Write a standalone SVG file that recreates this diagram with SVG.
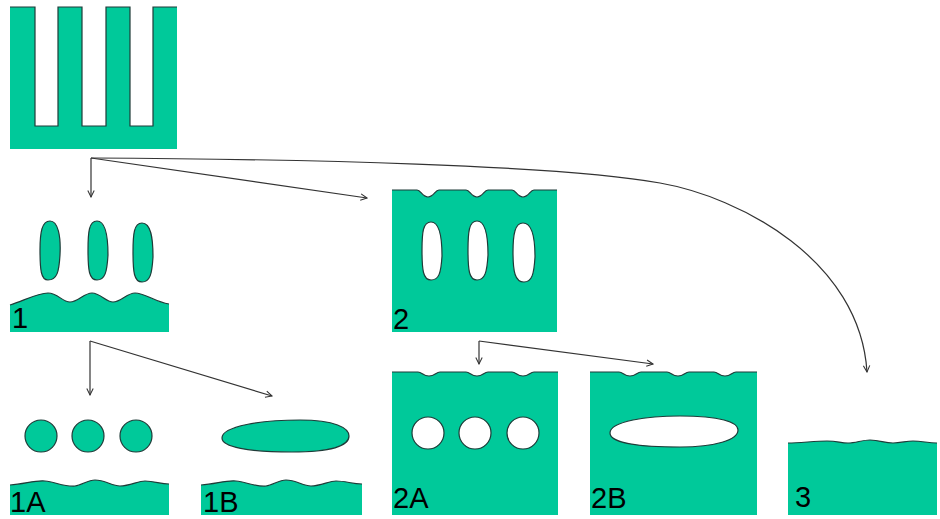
<svg xmlns="http://www.w3.org/2000/svg" width="940" height="519" viewBox="0 0 940 519">
<defs>
<style>
.fill{fill:#00C99A;stroke:none}
.edge{fill:none;stroke:#1f3b38;stroke-width:1.2}
.blob{fill:#00C99A;stroke:#1f3b38;stroke-width:1.2}
.hole{fill:#ffffff;stroke:#1f3b38;stroke-width:1.2}
.lbl{font-family:"Liberation Sans",Arial,sans-serif;font-size:29px;fill:#000}
.con{fill:none;stroke:#333;stroke-width:1.2}
</style>
<marker id="arr" viewBox="0 0 10 10" refX="9" refY="5" markerWidth="8" markerHeight="8" markerUnits="userSpaceOnUse" orient="auto">
<path d="M1,1 L9,5 L1,9" fill="none" stroke="#333" stroke-width="1.3"/>
</marker>
</defs>
<rect width="940" height="519" fill="#fff"/>

<g id="comb">
<path class="fill" d="M10,7 L35,7 L35,126 L58,126 L58,7 L82,7 L82,126 L106,126 L106,7 L130,7 L130,126 L153,126 L153,7 L177,7 L177,149 L10,149 Z"/>
<path class="edge" d="M10,7 L35,7 L35,126 L58,126 L58,7 L82,7 L82,126 L106,126 L106,7 L130,7 L130,126 L153,126 L153,7 L177,7"/>
</g>

<g id="n1">
<path class="fill" d="M10,305 C25,300 38,293 48,293 C58,293 62,302 70,302 C78,302 84,293 92,293 C100,293 106,302 113,302 C121,302 127,293 135,293 C145,293 155,302 169,304 L169,332 L10,332 Z"/>
<path class="edge" d="M10,305 C25,300 38,293 48,293 C58,293 62,302 70,302 C78,302 84,293 92,293 C100,293 106,302 113,302 C121,302 127,293 135,293 C145,293 155,302 169,304"/>
<path class="blob" d="M50,221 C58,221 61,236 60,255 C59,272 57,280 48,280 C41,280 40,270 40,250 C40,232 42,221 50,221 Z"/>
<path class="blob" d="M97,221 C105,221 108,236 108,255 C107,272 105,280 97,280 C89,280 88,270 88,250 C88,232 89,221 97,221 Z"/>
<path class="blob" d="M142,223 C151,223 153,238 153,257 C152,274 150,282 142,282 C134,282 133,272 133,252 C133,234 134,223 142,223 Z"/>
<text class="lbl" x="12" y="328">1</text>
</g>

<g id="n2">
<path class="fill" d="M392,190 L417,190 C421,190 422,197 428,197 C434,197 435,190 439,190 L466,190 C470,190 471,197 477,197 C483,197 484,190 488,190 L512,190 C516,190 517,197 523,197 C529,197 530,190 534,190 L557,190 L557,332 L392,332 Z"/>
<path class="edge" d="M392,190 L417,190 C421,190 422,197 428,197 C434,197 435,190 439,190 L466,190 C470,190 471,197 477,197 C483,197 484,190 488,190 L512,190 C516,190 517,197 523,197 C529,197 530,190 534,190 L557,190"/>
<path class="hole" d="M431,222 C439,222 442,237 442,256 C441,273 439,280 431,280 C423,280 422,270 422,250 C422,232 423,222 431,222 Z"/>
<path class="hole" d="M477,221 C485,221 488,236 488,255 C487,272 485,280 477,280 C469,280 468,270 468,250 C468,232 469,221 477,221 Z"/>
<path class="hole" d="M523,223 C532,223 535,238 535,257 C534,274 532,282 524,282 C515,282 513,272 513,252 C513,234 515,223 523,223 Z"/>
<text class="lbl" x="393" y="329">2</text>
</g>

<g id="n1A">
<circle class="blob" cx="41" cy="436" r="16"/>
<circle class="blob" cx="88" cy="436" r="16"/>
<circle class="blob" cx="136" cy="436" r="16"/>
<path class="fill" d="M10,485 C25,484 35,480 45,481 C55,482 65,487 75,486 C82,485 88,480 95,480 C105,480 112,486 120,486 C130,486 138,481 145,481 C155,481 160,484 169,484 L169,515 L10,515 Z"/>
<path class="edge" d="M10,485 C25,484 35,480 45,481 C55,482 65,487 75,486 C82,485 88,480 95,480 C105,480 112,486 120,486 C130,486 138,481 145,481 C155,481 160,484 169,484"/>
<text class="lbl" x="10" y="512">1A</text>
</g>

<g id="n1B">
<path class="blob" d="M222,438 C222,426 262,420 300,420 C335,420 349,428 349,436 C349,446 330,452 292,452 C248,452 222,447 222,438 Z"/>
<path class="fill" d="M201,485 C216,484 226,480 236,481 C246,482 256,487 266,486 C273,485 279,480 286,480 C296,480 303,486 311,486 C321,486 329,481 336,481 C346,481 352,484 362,484 L362,515 L201,515 Z"/>
<path class="edge" d="M201,485 C216,484 226,480 236,481 C246,482 256,487 266,486 C273,485 279,480 286,480 C296,480 303,486 311,486 C321,486 329,481 336,481 C346,481 352,484 362,484"/>
<text class="lbl" x="203" y="512">1B</text>
</g>

<g id="n2A">
<path class="fill" d="M392,372 L418,372 C422,372 423,376 429,376 C435,376 436,372 440,372 L466,372 C470,372 471,376 477,376 C483,376 484,372 488,372 L512,372 C516,372 517,376 523,376 C529,376 530,372 534,372 L558,372 L558,515 L392,515 Z"/>
<path class="edge" d="M392,372 L418,372 C422,372 423,376 429,376 C435,376 436,372 440,372 L466,372 C470,372 471,376 477,376 C483,376 484,372 488,372 L512,372 C516,372 517,376 523,376 C529,376 530,372 534,372 L558,372"/>
<circle class="hole" cx="428" cy="433" r="16"/>
<circle class="hole" cx="475" cy="433" r="16"/>
<circle class="hole" cx="523" cy="433" r="16"/>
<text class="lbl" x="393" y="508">2A</text>
</g>

<g id="n2B">
<path class="fill" d="M590,372 L619,372 C623,372 624,376 630,376 C636,376 637,372 641,372 L667,372 C671,372 672,376 678,376 C684,376 685,372 689,372 L714,372 C718,372 719,376 725,376 C731,376 732,372 736,372 L757,372 L757,515 L590,515 Z"/>
<path class="edge" d="M590,372 L619,372 C623,372 624,376 630,376 C636,376 637,372 641,372 L667,372 C671,372 672,376 678,376 C684,376 685,372 689,372 L714,372 C718,372 719,376 725,376 C731,376 732,372 736,372 L757,372"/>
<path class="hole" d="M610,433 C610,421 648,416 680,416 C720,416 738,422 738,430 C738,440 715,447 680,447 C640,447 610,443 610,433 Z"/>
<text class="lbl" x="591" y="508">2B</text>
</g>

<g id="n3">
<path class="fill" d="M788,443 C800,443 815,441 827,441 C838,441 840,443 848,443 C856,443 862,440 870,440 C880,440 884,443 893,443 C901,443 906,441 913,441 C922,441 928,443 937,443 L937,515 L788,515 Z"/>
<path class="edge" d="M788,443 C800,443 815,441 827,441 C838,441 840,443 848,443 C856,443 862,440 870,440 C880,440 884,443 893,443 C901,443 906,441 913,441 C922,441 928,443 937,443"/>
<text class="lbl" x="795" y="507">3</text>
</g>

<g id="connectors">
<path class="con" d="M91,158 L91,197" marker-end="url(#arr)"/>
<path class="con" d="M91,158 L367,198" marker-end="url(#arr)"/>
<path class="con" d="M91,158 C300,159 560,165 660,183 C740,197 860,260 867,372" marker-end="url(#arr)"/>
<path class="con" d="M90,341 L90,395" marker-end="url(#arr)"/>
<path class="con" d="M90,341 L272,396" marker-end="url(#arr)"/>
<path class="con" d="M479,341 L479,364" marker-end="url(#arr)"/>
<path class="con" d="M479,341 L653,364" marker-end="url(#arr)"/>
</g>
</svg>
